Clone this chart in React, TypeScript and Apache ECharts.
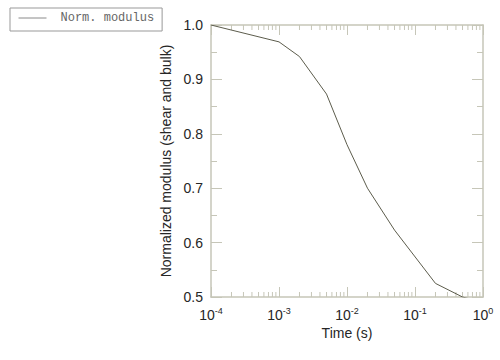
import React, { useEffect, useRef } from "react";
import * as echarts from "echarts";

const timeValues = [1e-4, 1e-3, 2e-3, 5e-3, 1e-2, 2e-2, 5e-2, 2e-1, 5e-1, 1];
const modulusValues = [1.0, 0.969, 0.942, 0.873, 0.78, 0.70, 0.623, 0.525, 0.5, 0.49];
const xTickExponents = [-4, -3, -2, -1, 0];
const minorTickValues: number[] = [];
for (const e of [-4, -3, -2, -1]) {
  for (const m of [2, 3, 4, 5, 6, 7, 8, 9]) minorTickValues.push(Number((m * Math.pow(10, e)).toPrecision(3)));
}
const seriesName = "Norm. modulus";

const AXIS_COLOR = "#c6c6b8";
const TEXT_COLOR = "#262626";

export default function App() {
  const ref = useRef<HTMLDivElement>(null);
  useEffect(() => {
    if (!ref.current) return;
    const chart = echarts.init(ref.current, undefined, { renderer: "svg" });
    const supLabel = (v: number) => {
      const e = Math.round(Math.log10(v));
      if (!xTickExponents.includes(e)) return "";
      return `{b|10}{s|${e}}`;
    };
    const xBase = {
      type: "log" as const,
      logBase: 10,
      min: 1e-4,
      max: 1,
      axisLine: { show: true, lineStyle: { color: AXIS_COLOR, width: 1.5 } },
      axisTick: { show: true, inside: true, length: 10, lineStyle: { color: AXIS_COLOR, width: 1 } },
      splitLine: { show: false },
    };
    const yBase = {
      type: "value" as const,
      min: 0.5,
      max: 1.0,
      interval: 0.1,
      axisLine: { show: true, lineStyle: { color: AXIS_COLOR, width: 1.5 } },
      axisTick: { show: true, inside: true, length: 11, lineStyle: { color: AXIS_COLOR, width: 1 } },
      minorTick: { show: true, splitNumber: 2, length: 6, lineStyle: { color: AXIS_COLOR, width: 1 } },
      splitLine: { show: false },
      minorSplitLine: { show: false },
    };
    chart.setOption({
      animation: false,
      backgroundColor: "#ffffff",
      grid: { left: 211, right: 17, top: 25, bottom: 63, containLabel: false },
      legend: {
        show: true,
        data: [{ name: seriesName }],
        left: 10,
        top: 8,
        orient: "horizontal",
        borderColor: "#999999",
        borderWidth: 1,
        padding: [4, 8, 7, 8],
        itemWidth: 28,
        itemHeight: 14,
        lineStyle: { color: "#8a8a8a", width: 1 },
        itemStyle: { opacity: 0 },
        textStyle: {
          fontFamily: "Liberation Mono",
          fontSize: 12,
          color: "#666666",
          padding: [0, 0, 0, 9],
        },
      },
      xAxis: [
        {
          ...xBase,
          position: "bottom",
          name: "Time (s)",
          nameLocation: "middle",
          nameGap: 23,
          nameTextStyle: { fontFamily: "Liberation Sans", fontSize: 14, color: TEXT_COLOR },
          axisLabel: {
            show: true,
            margin: 9,
            formatter: supLabel,
            rich: {
              b: { fontFamily: "Liberation Sans", fontSize: 14, color: TEXT_COLOR },
              s: { fontFamily: "Liberation Sans", fontSize: 9, color: TEXT_COLOR, padding: [0, 0, 8, 0] },
            },
          },
        },
        {
          ...xBase,
          position: "top",
          axisLabel: { show: false },
        },
      ],
      yAxis: [
        {
          ...yBase,
          position: "left",
          name: "Normalized modulus (shear and bulk)",
          nameLocation: "middle",
          nameGap: 32,
          nameTextStyle: { fontFamily: "Liberation Sans", fontSize: 14, color: TEXT_COLOR },
          axisLabel: {
            show: true,
            margin: 8,
            formatter: (v: number) => v.toFixed(1),
            fontFamily: "Liberation Sans",
            fontSize: 14,
            color: TEXT_COLOR,
          },
        },
        {
          ...yBase,
          position: "right",
          axisLabel: { show: false },
        },
      ],
      series: [
        {
          name: seriesName,
          type: "line",
          xAxisIndex: 0,
          yAxisIndex: 0,
          data: timeValues.map((t, i) => [t, modulusValues[i]]),
          showSymbol: false,
          symbol: "none",
          clip: true,
          lineStyle: { color: "#5c5c4c", width: 1 },
          itemStyle: { color: "#5c5c4c" },
        },
        {
          name: "minorTicks",
          type: "custom",
          xAxisIndex: 0,
          yAxisIndex: 0,
          silent: true,
          data: minorTickValues.map((v) => [v]),
          renderItem: (params: any, api: any) => {
            const v = api.value(0);
            const b = api.coord([v, 0.5]);
            const t = api.coord([v, 1.0]);
            const style = { stroke: AXIS_COLOR, lineWidth: 1 };
            return {
              type: "group",
              children: [
                { type: "line", shape: { x1: b[0], y1: b[1], x2: b[0], y2: b[1] - 5 }, style },
                { type: "line", shape: { x1: t[0], y1: t[1], x2: t[0], y2: t[1] + 5 }, style },
              ],
            };
          },
        },
      ],
    });
    return () => chart.dispose();
  }, []);
  return (
    <div
      ref={ref}
      style={{ position: "fixed", left: 0, top: 0, width: 500, height: 360 }}
    />
  );
}
